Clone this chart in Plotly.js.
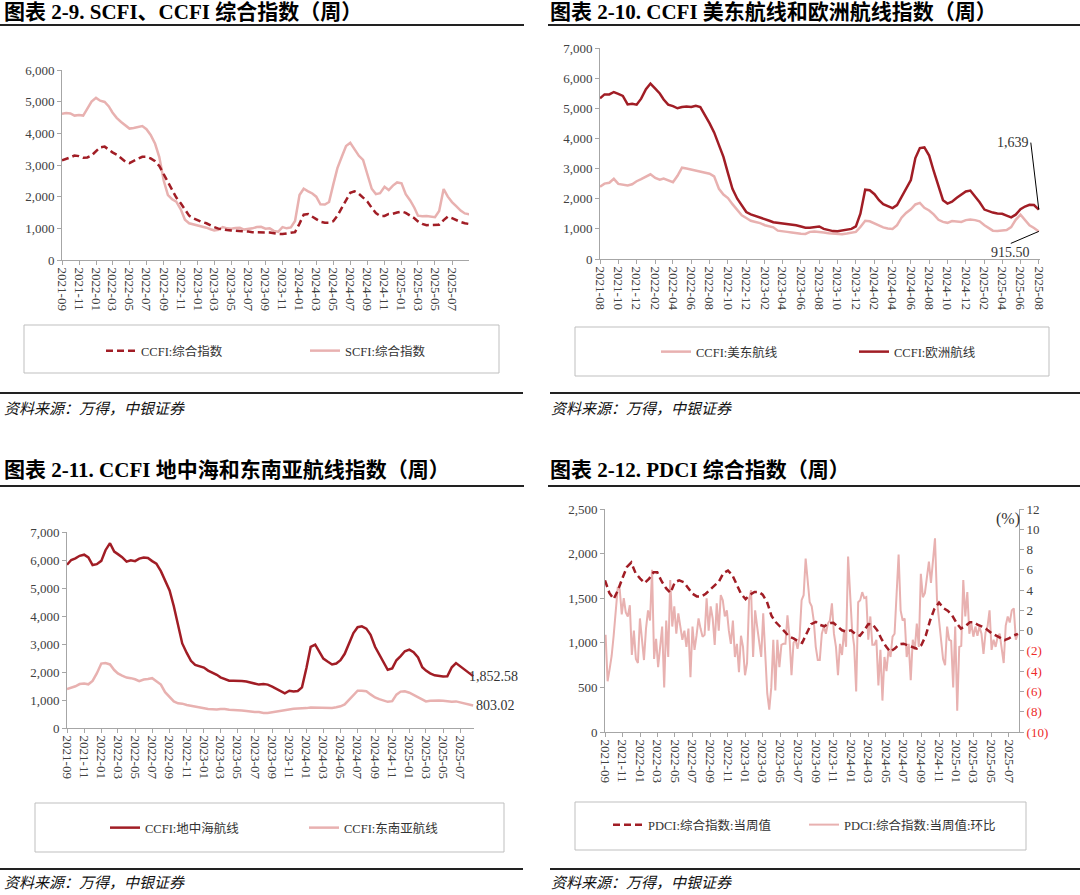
<!DOCTYPE html>
<html><head><meta charset="utf-8">
<script src="https://cdn.plot.ly/plotly-3.0.1.min.js"></script>
<style>html,body{margin:0;padding:0;background:#fff}#chart{width:1080px;height:895px}</style>
</head><body><div id="chart"></div>
<script>
// ---------- Panel 1: SCFI / CCFI composite (semi-monthly readings from 2021-09-01) ----------
const p1Start = [2021, 9];
const ccfiComposite = [3150,3190,3240,3300,3280,3230,3240,3300,3420,3560,
  3580,3480,3400,3330,3220,3110,3060,3140,3200,3260,
  3260,3210,3120,2970,2720,2470,2210,1970,1790,1600,
  1400,1320,1250,1200,1160,1090,1040,990,955,945,
  935,930,925,915,900,880,870,870,870,865,
  840,825,820,845,860,880,1150,1430,1450,1380,
  1290,1210,1180,1180,1225,1400,1650,1930,2120,2170,
  2090,1970,1840,1650,1480,1390,1390,1455,1460,1500,
  1530,1490,1410,1320,1220,1140,1100,1100,1110,1115,
  1260,1370,1320,1250,1200,1160,1135];
const scfiComposite = [4620,4640,4630,4560,4580,4560,4780,5000,5120,5030,
  4990,4850,4660,4490,4360,4240,4150,4170,4210,4230,
  4130,3950,3670,3250,2500,2050,1920,1840,1600,1270,
  1160,1130,1080,1050,1020,970,930,950,1040,1000,
  990,1010,1020,960,975,1000,1040,1050,990,1000,
  920,890,1040,1000,1030,1230,2050,2250,2170,2100,
  2000,1760,1750,1830,2380,2900,3270,3600,3700,3500,
  3290,3160,2700,2250,2080,2110,2310,2210,2350,2450,
  2420,2080,1880,1650,1400,1380,1390,1370,1350,1550,
  2240,2000,1830,1700,1560,1470,1440];

// ---------- Panel 2: CCFI US East / Europe (semi-monthly from 2021-08-01) ----------
const p2Start = [2021, 8];
const ccfiUSEast = [2400,2500,2530,2660,2490,2470,2440,2480,2580,2650,
  2740,2810,2690,2630,2670,2620,2550,2760,3030,3000,
  2970,2930,2890,2860,2830,2740,2330,2140,2020,1820,
  1630,1450,1360,1270,1230,1190,1120,1070,1050,940,
  930,900,880,855,835,830,900,915,905,880,
  855,840,825,825,845,865,900,1060,1270,1250,
  1170,1120,1050,1010,995,1120,1370,1530,1650,1810,
  1860,1700,1610,1480,1300,1230,1200,1260,1240,1230,
  1290,1310,1290,1250,1120,1020,940,930,935,960,
  1060,1300,1470,1300,1120,1030,915.5];
const ccfiEurope = [5330,5460,5460,5540,5480,5410,5130,5150,5120,5320,
  5630,5820,5650,5490,5290,5120,5070,5000,5040,5060,
  5040,5080,5040,4800,4500,4200,3750,3390,2850,2330,
  2000,1800,1560,1480,1430,1380,1340,1270,1220,1200,
  1200,1180,1160,1120,1080,1040,1040,1070,1080,1000,
  950,925,920,940,960,1000,1080,1500,2300,2280,
  2150,1950,1820,1750,1690,1790,2060,2300,2620,3350,
  3680,3700,3430,2920,2430,1950,1840,1900,2030,2130,
  2240,2270,2070,1880,1640,1580,1540,1510,1500,1440,
  1380,1470,1650,1740,1800,1790,1639];

// ---------- Panel 3: CCFI Mediterranean / Southeast Asia (semi-monthly from 2021-09-01) ----------
const p3Start = [2021, 9];
const ccfiMed = [5830,6000,6060,6150,6190,6090,5820,5850,5970,6350,
  6600,6300,6210,6100,5940,5990,5960,6050,6090,6070,
  5960,5870,5600,5280,4910,4350,3630,3020,2680,2400,
  2255,2200,2160,2050,1975,1900,1810,1740,1690,1690,
  1690,1680,1660,1620,1570,1550,1570,1550,1480,1390,
  1300,1240,1330,1300,1320,1450,2150,2900,2980,2720,
  2480,2375,2270,2300,2420,2650,3050,3390,3600,3630,
  3550,3330,2900,2630,2340,2080,2130,2420,2570,2740,
  2800,2710,2520,2170,2050,1950,1880,1850,1840,1850,
  2170,2320,2200,2090,1960,1852.58];
const ccfiSEA = [1390,1440,1490,1570,1590,1560,1680,1950,2300,2320,
  2270,2070,1950,1870,1800,1780,1740,1670,1730,1750,
  1780,1670,1550,1280,1100,950,880,870,820,790,
  750,715,690,680,670,660,680,680,650,650,
  640,625,610,585,570,570,540,540,565,610,
  620,630,675,688,697,700,710,735,730,712,
  710,710,712,740,775,840,1010,1190,1330,1330,
  1310,1200,1090,1030,990,935,960,1190,1300,1310,
  1260,1180,1080,1015,950,975,990,985,970,945,
  940,950,910,880,825,803.02];

// ---------- Panel 4: PDCI composite (semi-monthly) and week-on-week % (weekly from 2021-09-03) ----------
const p4Start = [2021, 9];
const pdciLevel = [1700,1560,1490,1590,1730,1850,1900,1780,1720,1670,
  1720,1790,1790,1690,1610,1560,1680,1700,1680,1610,
  1550,1520,1520,1550,1600,1645,1690,1780,1810,1760,
  1650,1550,1490,1540,1570,1570,1540,1460,1300,1230,
  1180,1130,1070,1050,1020,1000,1100,1210,1235,1200,
  1185,1220,1225,1180,1140,1125,1140,1100,1080,1140,
  1210,1205,1140,1040,960,900,935,985,990,970,
  950,935,975,1080,1250,1380,1450,1390,1360,1310,
  1220,1160,1190,1230,1230,1200,1180,1150,1110,1085,
  1060,1030,1050,1080,1100];
const pdciWeekStart = '2021-09-03';
const pdciWoW = [-0.4,-5.0,-3.8,-2.5,-0.5,2.0,4.2,4.1,1.6,3.2,
  1.8,1.4,2.5,-2.4,0.0,-2.8,-3.2,1.2,-0.9,-2.9,
  0.2,2.0,1.0,6.0,-2.8,-0.8,-3.6,-1.2,0.4,-5.6,
  1.0,-2.6,5.0,0.4,2.4,-0.3,1.7,0.4,-0.9,0.0,
  -1.6,0.2,-4.6,0.4,-1.9,-0.5,1.2,0.2,-0.6,-0.4,
  3.2,0.0,2.4,1.2,-1.4,2.7,0.0,3.5,3.0,1.4,
  2.0,0.0,-1.3,1.0,-2.6,-1.3,-4.1,-0.5,-1.6,-4.4,
  -3.2,3.0,4.0,-2.6,2.0,0.4,-0.9,-2.6,1.7,-2.9,
  -6.2,-7.8,-5.6,-0.9,-5.9,-0.9,-3.6,-1.4,-1.3,-1.3,
  1.5,-0.6,-4.4,-1.2,-0.9,-1.8,-0.6,3.0,3.5,7.1,
  4.7,2.8,2.4,1.0,-1.6,-2.9,-2.9,-0.3,0.4,-0.3,
  0.7,1.0,2.7,-0.3,-1.6,-4.4,-1.3,-2.4,0.0,-1.6,
  7.3,3.0,0.0,-1.5,-6.0,2.8,3.0,3.8,3.2,3.3,
  -0.9,1.4,-1.4,-1.4,-0.9,-5.4,-1.9,-6.9,-2.6,-4.0,
  -1.9,-2.6,-0.6,-0.3,3.0,7.5,2.0,1.0,1.2,-2.6,
  -1.3,-4.9,-0.9,-1.9,0.7,-1.6,5.6,3.3,3.7,5.3,
  6.8,4.7,6.8,9.1,3.0,0.7,-0.9,-2.8,-3.4,0.4,
  -0.9,-1.0,-5.6,0.4,-7.9,-1.6,-1.5,5.0,1.4,3.8,
  -0.3,0.7,-0.6,0.4,-0.5,0.4,-0.3,-2.3,-0.2,0.4,
  2.0,-1.9,-0.9,-1.6,-0.6,-0.3,-1.6,-3.2,0.5,1.4,
  0.8,2.0,2.2,-0.9,-0.3];
const wowTickVals = [-10,-8,-6,-4,-2,0,2,4,6,8,10,12];
const wowTickText = ['(10)','(8)','(6)','(4)','(2)','0','2','4','6','8','10','12'];

// ---------- date helpers (categories only) ----------
function semiMonthly(start, n){
  const out=[];
  for(let i=0;i<n;i++){
    const m0=start[1]-1+Math.floor(i/2);
    const y=start[0]+Math.floor(m0/12), m=m0%12+1;
    out.push(y+'-'+String(m).padStart(2,'0')+'-'+(i%2?'16':'01'));
  }
  return out;
}
function weekly(startISO, n){
  const t0=Date.parse(startISO+'T00:00:00Z'), out=[];
  for(let i=0;i<n;i++) out.push(new Date(t0+i*7*864e5).toISOString().slice(0,10));
  return out;
}

const W=1080, H=895;
const PX=x=>x/W, PY=y=>1-y/H;
const SERIF='"Liberation Serif","Times New Roman","Noto Sans CJK SC",serif';
const CJK='"Liberation Serif","Noto Sans CJK SC",serif';
const DARK='#A11D25', PINK='#E8B1B0', AX='#a6a6a6';
const tickFont={family:SERIF,size:13,color:'#404040'};
const legFont={family:CJK,size:12.5,color:'#333'};

function xAx(domain, anchor, tick0, range){
  return {domain, anchor, type:'date', range, tick0, dtick:'M2', tickformat:'%Y-%m', tickangle:90,
    showline:true, linecolor:AX, linewidth:1, ticks:'outside', ticklen:4, tickcolor:AX,
    showgrid:false, zeroline:false, tickfont:tickFont, fixedrange:true};
}
function yAx(domain, anchor, range, dtick){
  return {domain, anchor, range, tick0:0, dtick, tickformat:',d', showline:true, linecolor:AX, linewidth:1,
    ticks:'outside', ticklen:4, tickcolor:AX, showgrid:false, zeroline:false, tickfont:tickFont, fixedrange:true};
}

const d1=semiMonthly(p1Start, scfiComposite.length);
const d2=semiMonthly(p2Start, ccfiEurope.length);
const d3=semiMonthly(p3Start, ccfiMed.length);
const d4=semiMonthly(p4Start, pdciLevel.length);
const w4=weekly(pdciWeekStart, pdciWoW.length);
const DASH='7px,4px';

const data=[
  {x:d1,y:scfiComposite,name:'SCFI:综合指数',xaxis:'x',yaxis:'y',mode:'lines',line:{color:PINK,width:2.5},legend:'legend',legendrank:2},
  {x:d1,y:ccfiComposite,name:'CCFI:综合指数',xaxis:'x',yaxis:'y',mode:'lines',line:{color:DARK,width:2.5,dash:DASH},legend:'legend',legendrank:1},
  {x:d2,y:ccfiUSEast,name:'CCFI:美东航线',xaxis:'x2',yaxis:'y2',mode:'lines',line:{color:PINK,width:2.5},legend:'legend2',legendrank:1},
  {x:d2,y:ccfiEurope,name:'CCFI:欧洲航线',xaxis:'x2',yaxis:'y2',mode:'lines',line:{color:DARK,width:2.5},legend:'legend2',legendrank:2},
  {x:d3,y:ccfiMed,name:'CCFI:地中海航线',xaxis:'x3',yaxis:'y3',mode:'lines',line:{color:DARK,width:2.5},legend:'legend3',legendrank:1},
  {x:d3,y:ccfiSEA,name:'CCFI:东南亚航线',xaxis:'x3',yaxis:'y3',mode:'lines',line:{color:PINK,width:2.5},legend:'legend3',legendrank:2},
  {x:w4,y:pdciWoW,name:'PDCI:综合指数:当周值:环比',xaxis:'x4',yaxis:'y4',mode:'lines',line:{color:PINK,width:2},legend:'legend4',legendrank:2},
  {x:d4,y:pdciLevel,name:'PDCI:综合指数:当周值',xaxis:'x4',yaxis:'y5',mode:'lines',line:{color:DARK,width:2.5,dash:DASH},legend:'legend4',legendrank:1}
];

function leg(xpx, ypx, ew){
  return {orientation:'h', x:PX(xpx), y:PY(ypx), xanchor:'left', yanchor:'middle', bgcolor:'rgba(0,0,0,0)',
    borderwidth:0, font:legFont, entrywidth:ew, entrywidthmode:'pixels', itemwidth:30};
}

function titleAnn(text, xpx, ypx){
  return {text:'<b>'+text+'</b>', xref:'paper', yref:'paper', x:PX(xpx), y:PY(ypx), xanchor:'left', yanchor:'middle',
    showarrow:false, font:{family:SERIF, size:21, color:'#000'}};
}
function srcAnn(xpx, ypx){
  return {text:'<i>资料来源：万得，中银证券</i>', xref:'paper', yref:'paper', x:PX(xpx), y:PY(ypx), xanchor:'left', yanchor:'middle',
    showarrow:false, font:{family:'"Noto Sans CJK SC",sans-serif', size:15, color:'#111'}};
}
function rule(x0,x1,y,w){
  return {type:'line', xref:'paper', yref:'paper', x0:PX(x0), x1:PX(x1), y0:PY(y), y1:PY(y), line:{color:'#222', width:w}};
}
function box(x0,x1,y0,y1){
  return {type:'rect', xref:'paper', yref:'paper', x0:PX(x0), x1:PX(x1), y0:PY(y1), y1:PY(y0), line:{color:'#bfbfbf', width:1}, fillcolor:'rgba(0,0,0,0)'};
}
const valFont={family:SERIF,size:14,color:'#333'};

const layout={
  width:W, height:H, margin:{l:0,r:0,t:0,b:0}, paper_bgcolor:'#fff', plot_bgcolor:'#fff', showlegend:true,
  xaxis: xAx([PX(62),PX(469)], 'y', '2021-09-01', ['2021-09-01','2025-08-31']),
  yaxis: yAx([PY(260),PY(70)], 'x', [0,6000], 1000),
  xaxis2: xAx([PX(600),PX(1040)], 'y2', '2021-08-01', ['2021-08-01','2025-08-05']),
  yaxis2: yAx([PY(259),PY(48)], 'x2', [0,7000], 1000),
  xaxis3: xAx([PX(67),PX(474)], 'y3', '2021-09-01', ['2021-09-01','2025-08-19']),
  yaxis3: yAx([PY(728),PY(532)], 'x3', [0,7000], 1000),
  xaxis4: xAx([PX(605),PX(1019)], 'y4', '2021-09-01', ['2021-09-01','2025-08-05']),
  yaxis4: Object.assign(yAx([PY(732),PY(509)], 'x4', [-10,12], 2), {side:'right', tickmode:'array', tickvals:wowTickVals,
    ticktext:wowTickText.map(t=>t.startsWith('(')?'<span style="color:#ee2a2a">'+t+'</span>':t)}),
  yaxis5: Object.assign(yAx([PY(732),PY(509)], 'x4', [0,2500], 500), {overlaying:'y4', side:'left'}),
  legend: leg(101, 351, 159),
  legend2: leg(656, 352, 153),
  legend3: leg(105, 828, 154),
  legend4: leg(608, 825, 151),
  annotations:[
    titleAnn('图表 2-9. SCFI、CCFI 综合指数（周）', 2, 12),
    titleAnn('图表 2-10. CCFI 美东航线和欧洲航线指数（周）', 548, 12),
    titleAnn('图表 2-11. CCFI 地中海和东南亚航线指数（周）', 2, 470),
    titleAnn('图表 2-12. PDCI 综合指数（周）', 548, 470),
    srcAnn(2, 408), srcAnn(549, 408), srcAnn(2, 881), srcAnn(549, 881),
    {text:'1,639', xref:'x2', yref:'y2', x:d2[d2.length-1], y:ccfiEurope[ccfiEurope.length-1], showarrow:true, arrowhead:0, arrowwidth:1, arrowcolor:'#000',
      ax:-8, ay:-67, xanchor:'right', yanchor:'middle', font:valFont},
    {text:'915.50', xref:'x2', yref:'y2', x:d2[d2.length-1], y:ccfiUSEast[ccfiUSEast.length-1], showarrow:true, arrowhead:0, arrowwidth:1, arrowcolor:'#000',
      ax:-28, ay:12, xanchor:'center', yanchor:'top', font:valFont},
    {text:'1,852.58', xref:'x3', yref:'y3', x:d3[d3.length-1], y:ccfiMed[ccfiMed.length-1], showarrow:false, xanchor:'left', yanchor:'middle', xshift:-6, font:valFont},
    {text:'803.02', xref:'x3', yref:'y3', x:d3[d3.length-1], y:ccfiSEA[ccfiSEA.length-1], showarrow:false, xanchor:'left', yanchor:'middle', xshift:1, font:valFont},
    {text:'(%)', xref:'paper', yref:'paper', x:PX(1008), y:PY(519), xanchor:'center', yanchor:'middle', showarrow:false, font:{family:SERIF,size:16,color:'#333'}}
  ],
  shapes:[
    rule(0,524,25,2), rule(548,1080,25,2), rule(0,524,486,2), rule(548,1080,486,2),
    rule(0,523,393,2), rule(550,1080,393,2), rule(0,523,869,2), rule(550,1080,869,2),
    box(24,499,325,373), box(575,1049,327,376), box(35,504,803,852), box(575,1026,802,850)
  ]
};

Plotly.newPlot('chart', data, layout, {displayModeBar:false, staticPlot:true});
</script>
</body></html>
